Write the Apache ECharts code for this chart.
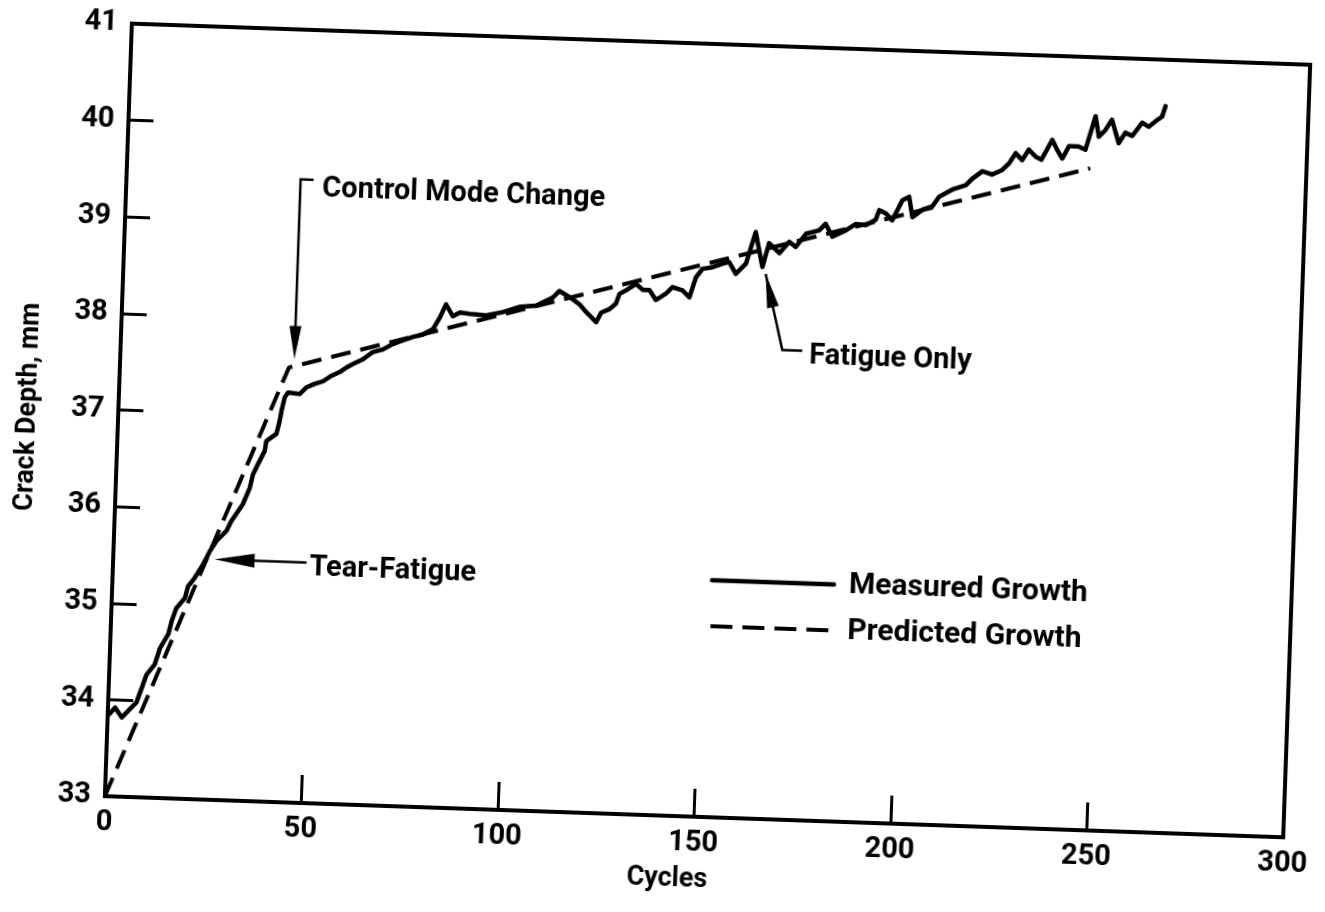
<!DOCTYPE html>
<html>
<head>
<meta charset="utf-8">
<script src="https://cdn.jsdelivr.net/npm/echarts@6/dist/echarts.min.js"></script>
<style>
  html, body { margin: 0; padding: 0; background: #fff; overflow: hidden; }
  /* the scanned figure sits about 2 degrees off square */
  #chart { width: 1325px; height: 912px; transform-origin: 708.5px 430.75px; transform: rotate(2deg); }
</style>
</head>
<body>
<div id="chart"></div>
<script>
// tick labels
const xTicks = [0, 50, 100, 150, 200, 250, 300]
const yTicks = [33, 34, 35, 36, 37, 38, 39, 40, 41]

// measured growth
const measuredCycles = [0.4, 1.8, 3.6, 5.6, 7.2, 8.4, 9.5, 11.5, 12.7, 14.7, 15.4, 16.5, 18.6, 19.3, 20.9, 22.9,
  24.5, 26.1, 28.6, 29.7, 32.5, 34.1, 34.8, 36.0, 37.6, 37.9, 40.4, 41.1, 41.5, 42.2, 43.0, 46.0, 47.6, 49.7,
  51.8, 53.9, 55.9, 57.6, 59.7, 61.7, 64.2, 66.7, 69.2, 71.7, 74.2, 76.8, 79.3, 80.9, 82.4, 84.2, 86.0, 88.4,
  92.7, 96.9, 101.1, 105.3, 109.5, 111.1, 113.7, 116.3, 118.1, 120.7, 121.9, 124.0, 125.6, 126.4, 128.0, 130.5,
  132.3, 134.0, 135.7, 138.2, 139.8, 142.4, 144.2, 145.7, 147.3, 149.8, 152.3, 154.0, 155.8, 158.3, 160.5, 162.5,
  164.0, 166.7, 169.1, 170.8, 173.3, 176.6, 178.2, 180.0, 183.4, 185.9, 188.4, 190.9, 191.7, 193.4, 195.1, 197.5,
  199.2, 200.2, 202.7, 205.2, 206.8, 210.1, 213.5, 215.1, 217.6, 220.1, 222.6, 224.3, 225.9, 227.6, 229.2, 231.0,
  232.5, 235.1, 236.4, 237.8, 239.4, 241.9, 243.6, 245.9, 246.9, 248.5, 250.1, 252.0, 253.6, 255.4, 257.8, 259.5,
  261.2, 262.8, 263.6]
const measuredDepth = [33.85, 33.92, 33.82, 33.91, 33.98, 34.13, 34.27, 34.38, 34.55, 34.70, 34.83, 34.97, 35.08, 35.20, 35.29, 35.43,
  35.57, 35.68, 35.79, 35.89, 36.07, 36.24, 36.38, 36.49, 36.63, 36.73, 36.81, 36.94, 37.05, 37.19, 37.24, 37.23, 37.30, 37.34,
  37.37, 37.43, 37.47, 37.52, 37.57, 37.61, 37.69, 37.72, 37.78, 37.82, 37.86, 37.89, 37.95, 38.07, 38.21, 38.09, 38.13, 38.12,
  38.11, 38.15, 38.21, 38.23, 38.32, 38.39, 38.33, 38.26, 38.18, 38.08, 38.18, 38.22, 38.28, 38.38, 38.42, 38.49,
  38.43, 38.43, 38.33, 38.40, 38.47, 38.44, 38.37, 38.58, 38.67, 38.69, 38.73, 38.75, 38.63, 38.74, 39.07, 38.71,
  38.96, 38.86, 38.98, 38.93, 39.07, 39.11, 39.18, 39.05, 39.12, 39.19, 39.18, 39.24, 39.34, 39.31, 39.24, 39.45,
  39.49, 39.28, 39.36, 39.40, 39.50, 39.58, 39.63, 39.70, 39.78, 39.75, 39.80, 39.87, 39.98, 39.91, 40.02, 39.95,
  39.92, 40.13, 40.03, 39.94, 40.07, 40.07, 40.04, 40.39, 40.18, 40.25, 40.36, 40.12, 40.23, 40.20, 40.34, 40.30,
  40.36, 40.41, 40.52]

// predicted growth
const predictedCycles = [0, 43, 245]
const predictedDepth = [33, 37.5, 39.85]

// annotation anchors (cycles, mm)
const modeChangeTip = [44.3, 37.59]
const modeChangeTop = [44.3, 39.45]
const tearTip = [25.8, 35.49]
const fatigueTip = [163.4, 38.64]
const fatigueBend = [168.3, 37.86]

const FONT = 'Roboto, "Liberation Sans", sans-serif'
const chart = echarts.init(document.getElementById('chart'))

const tickText = { color: '#000', fontSize: 29, fontWeight: 'bold', fontFamily: FONT }
const nameText = { color: '#000', fontSize: 27, fontWeight: 'bold', fontFamily: FONT }

const solidStyle = { color: '#000', width: 4.5, join: 'round', cap: 'round' }
const dashStyle = { color: '#000', width: 4, type: [20, 10] }

chart.setOption({
  animation: false,
  backgroundColor: 'transparent',
  grid: { left: 118, top: 44, width: 1181, height: 773, show: true, borderColor: '#000', borderWidth: 4 },
  legend: {
    orient: 'vertical',
    left: 710,
    top: 560,
    itemWidth: 122,
    itemHeight: 16,
    itemGap: 16,
    selectedMode: false,
    itemStyle: { opacity: 0, borderWidth: 0 },
    textStyle: { color: '#000', fontSize: 30, fontWeight: 'bold', fontFamily: FONT, padding: [0, 0, 0, 10] },
    data: [
      { name: 'Measured Growth', lineStyle: { color: '#000', width: 4.5, cap: 'round' } },
      { name: 'Predicted Growth', lineStyle: { color: '#000', width: 4, type: [22, 10] } }
    ]
  },
  xAxis: {
    type: 'value',
    min: xTicks[0],
    max: xTicks[xTicks.length - 1],
    interval: 50,
    name: 'Cycles',
    nameLocation: 'middle',
    nameGap: 50,
    nameTextStyle: Object.assign({ padding: [0, 50, 0, 0] }, nameText),
    axisLine: { show: true, lineStyle: { color: '#000', width: 4 } },
    axisTick: { show: true, inside: true, length: 28, lineStyle: { color: '#000', width: 3 } },
    axisLabel: Object.assign({ margin: 12, showMinLabel: true, showMaxLabel: true }, tickText),
    splitLine: { show: false }
  },
  yAxis: {
    type: 'value',
    min: yTicks[0],
    max: yTicks[yTicks.length - 1],
    interval: 1,
    name: 'Crack Depth, mm',
    nameLocation: 'middle',
    nameGap: 76,
    nameTextStyle: nameText,
    axisLine: { show: true, lineStyle: { color: '#000', width: 4 } },
    axisTick: { show: true, inside: true, length: 25, lineStyle: { color: '#000', width: 3 } },
    axisLabel: Object.assign({ margin: 14, showMinLabel: true, showMaxLabel: true }, tickText),
    splitLine: { show: false }
  },
  series: [
    {
      name: 'Measured Growth',
      type: 'line',
      symbol: 'none',
      data: measuredCycles.map((c, i) => [c, measuredDepth[i]]),
      lineStyle: solidStyle,
      itemStyle: { color: '#000' }
    },
    {
      name: 'Predicted Growth',
      type: 'line',
      symbol: 'none',
      data: predictedCycles.map((c, i) => [c, predictedDepth[i]]),
      lineStyle: dashStyle,
      itemStyle: { color: '#000' }
    }
  ]
})

// arrows and labels placed from data coordinates
const px = p => chart.convertToPixel({ gridIndex: 0 }, p)

function head(tip, from, len, half) {
  const dx = tip[0] - from[0], dy = tip[1] - from[1]
  const l = Math.hypot(dx, dy), ux = dx / l, uy = dy / l
  const bx = tip[0] - ux * len, by = tip[1] - uy * len
  return [[tip[0], tip[1]], [bx - uy * half, by + ux * half], [bx + uy * half, by - ux * half]]
}
const shaft = pts => ({ type: 'polyline', shape: { points: pts }, style: { stroke: '#000', lineWidth: 2.5, fill: null } })
const tri = pts => ({ type: 'polygon', shape: { points: pts }, style: { fill: '#000' } })
const label = (x, y, text) => ({
  type: 'text', x: x, y: y,
  style: { text: text, fill: '#000', font: 'bold 29px ' + FONT, verticalAlign: 'middle', align: 'left' }
})

const mTip = px(modeChangeTip), mTop = px(modeChangeTop)
const tTip = px(tearTip)
const fTip = px(fatigueTip), fBend = px(fatigueBend)

chart.setOption({
  graphic: [
    shaft([[mTop[0] + 13, mTop[1]], mTop, [mTip[0], mTip[1] - 30]]),
    tri(head(mTip, mTop, 33, 6)),
    label(mTop[0] + 22, mTop[1] + 9, 'Control Mode Change'),

    shaft([[tTip[0] + 30, tTip[1]], [tTip[0] + 92, tTip[1]]]),
    tri(head(tTip, [tTip[0] + 92, tTip[1]], 40, 7)),
    label(tTip[0] + 95, tTip[1] + 5, 'Tear-Fatigue'),

    shaft([[fBend[0] + 20, fBend[1]], fBend, fTip]),
    tri(head(fTip, fBend, 34, 6)),
    label(fBend[0] + 27, fBend[1] + 5, 'Fatigue Only')
  ]
})
</script>
</body>
</html>
